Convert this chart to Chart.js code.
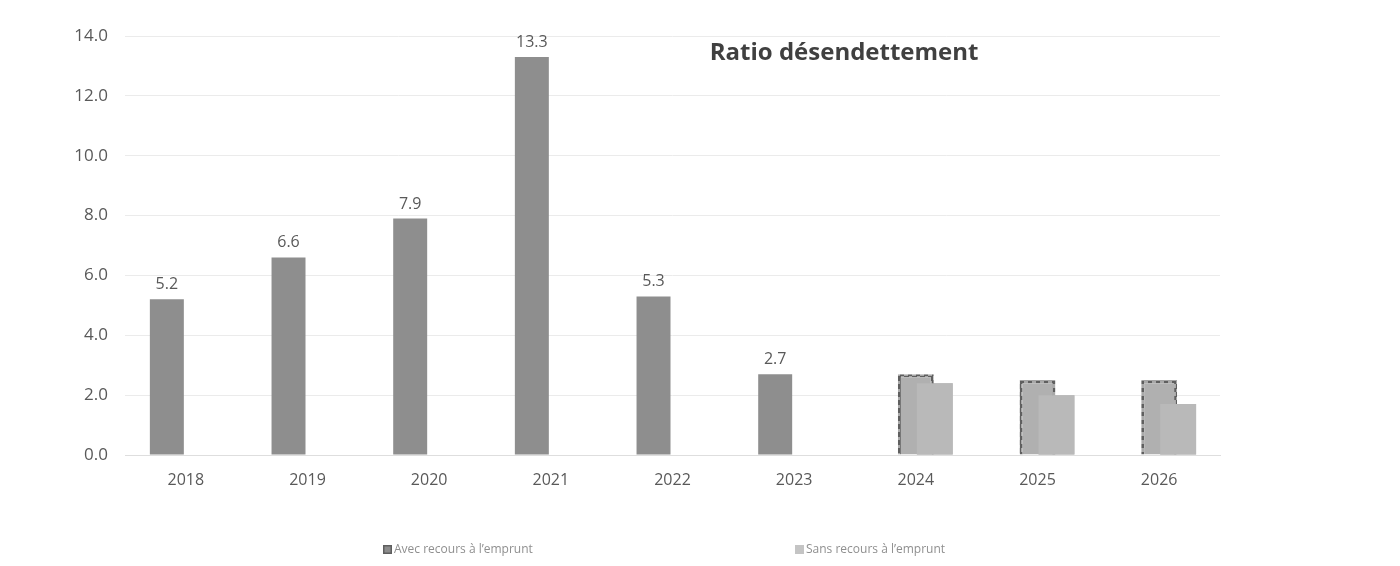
<!DOCTYPE html>
<html>
<head>
<meta charset="utf-8">
<script src="https://cdn.jsdelivr.net/npm/chart.js@4"></script>
<style>
  html, body { margin: 0; padding: 0; background: #ffffff; }
  #wrap { width: 1400px; height: 566px; position: relative; }
</style>
</head>
<body>
<div id="wrap"><canvas id="c" width="1400" height="566"></canvas></div>
<script>
const categories = ['2018', '2019', '2020', '2021', '2022', '2023', '2024', '2025', '2026'];
const avecHistorique = [5.2, 6.6, 7.9, 13.3, 5.3, 2.7, null, null, null];
const avecPrevision = [null, null, null, null, null, null, 2.7, 2.5, 2.5];
const sansRecours = [null, null, null, null, null, null, 2.4, 2.0, 1.7];
const yTicks = [0, 2, 4, 6, 8, 10, 12, 14];
const legendLabels = ['Avec recours à l\u2019emprunt', 'Sans recours à l\u2019emprunt'];
const chartTitle = 'Ratio désendettement';

const FONT = '"Open Sans", "Liberation Sans", sans-serif';
const TEXT = '#595959';

// checkerboard pattern -> dashed-looking border for forecast bars
function dashPattern() {
  const c = document.createElement('canvas');
  c.width = 8; c.height = 8;
  const g = c.getContext('2d');
  g.fillStyle = '#a8a8a8';
  g.fillRect(0, 0, 8, 8);
  g.fillStyle = '#5f5f5f';
  g.fillRect(0, 0, 5, 5);
  g.fillRect(4, 4, 4, 4);
  return g.createPattern(c, 'repeat');
}

const labelsPlugin = {
  id: 'valueLabels',
  afterDatasetsDraw(chart) {
    // draw the "sans recours" series on top of the overlapping forecast bars
    chart.getDatasetMeta(2).controller.draw();
    const ctx = chart.ctx;
    const meta = chart.getDatasetMeta(0);
    ctx.save();
    ctx.font = '16px ' + FONT;
    ctx.fillStyle = TEXT;
    ctx.textAlign = 'center';
    ctx.textBaseline = 'alphabetic';
    meta.data.forEach((bar, i) => {
      const v = avecHistorique[i];
      if (v === null || v === undefined) return;
      ctx.fillText(v.toFixed(1), bar.x, bar.y - 10);
    });
    ctx.restore();
  }
};

const titleLegendPlugin = {
  id: 'titleLegend',
  afterDraw(chart) {
    const ctx = chart.ctx;
    const a = chart.chartArea;
    ctx.save();
    ctx.font = 'bold 24px ' + FONT;
    ctx.fillStyle = '#404040';
    ctx.textAlign = 'left';
    ctx.textBaseline = 'alphabetic';
    ctx.fillText(chartTitle, a.left + (a.right - a.left) * 0.534, 60);
    const items = [
      { x: 383, color: '#8c8c8c', border: '#5e5e5e' },
      { x: 795, color: '#c4c4c4', border: '#c4c4c4' }
    ];
    ctx.font = '12px ' + FONT;
    ctx.textBaseline = 'middle';
    items.forEach((it, i) => {
      ctx.fillStyle = it.border;
      ctx.fillRect(it.x, 545, 9, 9);
      ctx.fillStyle = it.color;
      ctx.fillRect(it.x + 1.5, 546.5, 6, 6);
      ctx.fillStyle = '#8f8f8f';
      ctx.fillText(legendLabels[i], it.x + 11, 550);
    });
    ctx.restore();
  }
};

const CP = 0.468;

new Chart(document.getElementById('c'), {
  type: 'bar',
  data: {
    labels: categories,
    datasets: [
      {
        label: legendLabels[0],
        data: avecHistorique,
        backgroundColor: '#8e8e8e',
        borderWidth: 0,
        categoryPercentage: CP,
        barPercentage: 1.79
      },
      {
        label: legendLabels[0] + ' (prévision)',
        data: avecPrevision,
        backgroundColor: '#b0b0b0',
        borderColor: dashPattern(),
        borderWidth: { top: 3, left: 3, right: 3, bottom: 0 },
        categoryPercentage: CP,
        barPercentage: 1.89
      },
      {
        label: legendLabels[1],
        data: sansRecours,
        backgroundColor: '#b9b9b9',
        borderWidth: 0,
        categoryPercentage: CP,
        barPercentage: 1.89
      }
    ]
  },
  options: {
    responsive: false,
    animation: false,
    maintainAspectRatio: false,
    layout: { padding: { left: 65, right: 180, top: 36, bottom: 0 } },
    plugins: {
      legend: { display: false },
      title: { display: false },
      tooltip: { enabled: false }
    },
    scales: {
      x: {
        type: 'category',
        offset: true,
        grid: { display: false, drawTicks: false },
        border: { display: true, color: '#dedede', width: 1 },
        ticks: { color: TEXT, font: { family: FONT, size: 16 }, padding: 16, maxRotation: 0 },
        afterFit(s) { s.height = 111; }
      },
      y: {
        min: 0,
        max: 14,
        afterBuildTicks(s) { s.ticks = yTicks.map(v => ({ value: v })); },
        grid: { color: '#ebebeb', drawTicks: false },
        border: { display: false },
        ticks: {
          color: TEXT,
          font: { family: FONT, size: 17 },
          padding: 17,
          callback: (v) => Number(v).toFixed(1)
        },
        afterFit(s) { s.width = 60; }
      }
    }
  },
  plugins: [labelsPlugin, titleLegendPlugin]
});
</script>
</body>
</html>
